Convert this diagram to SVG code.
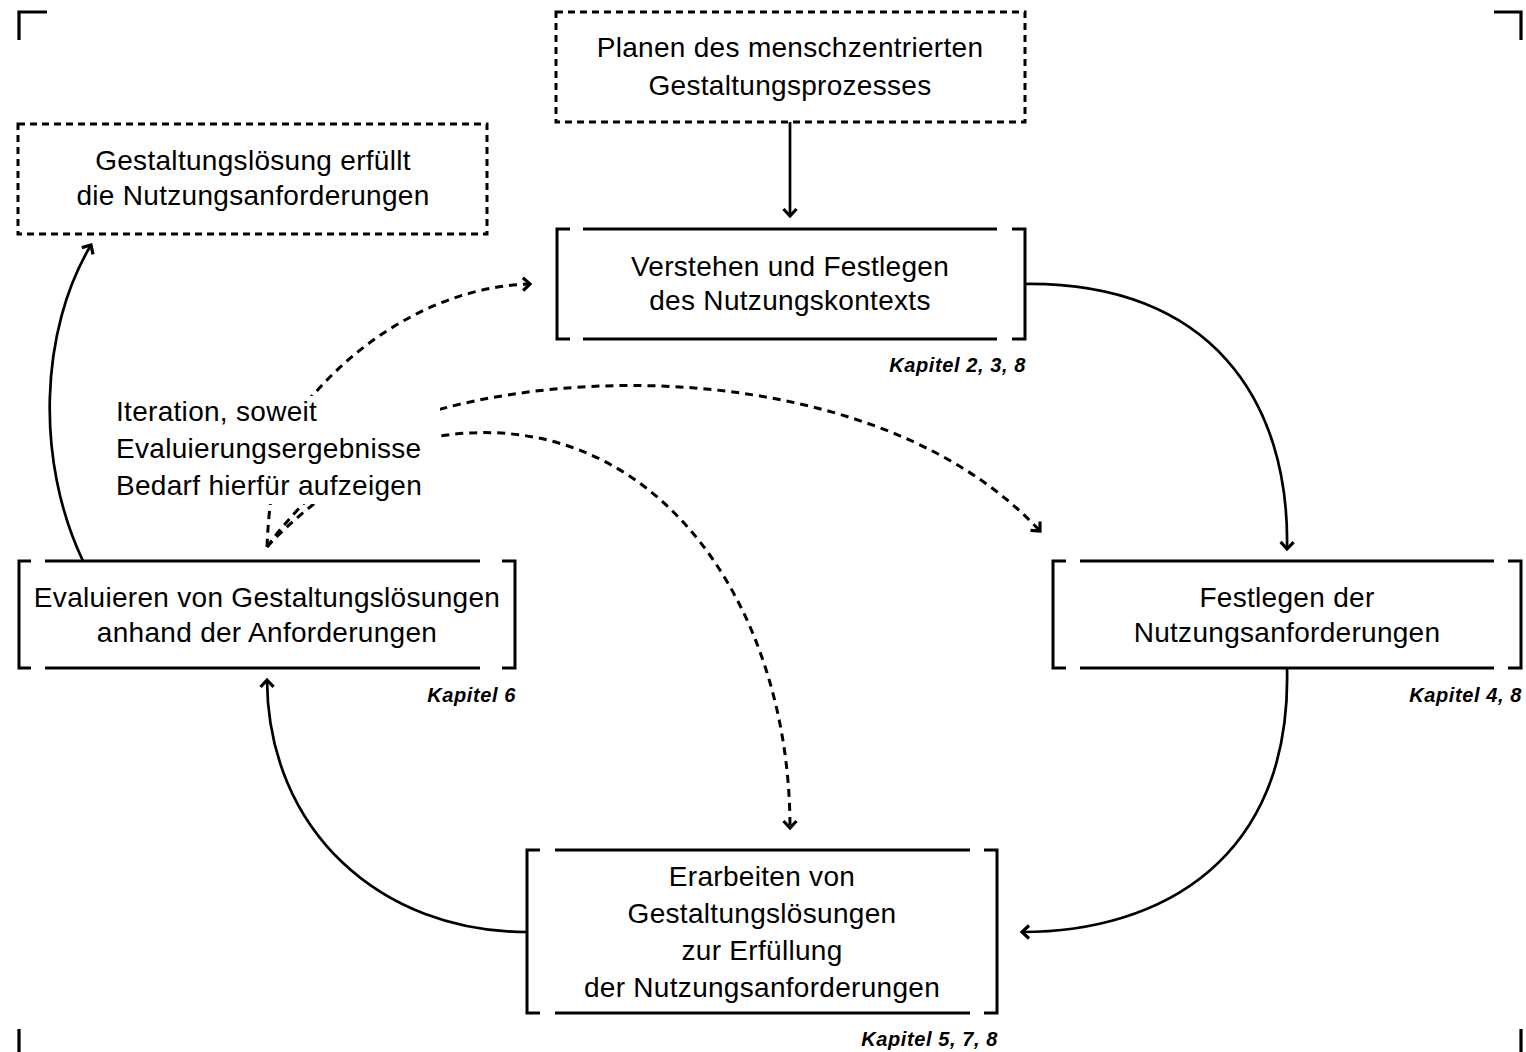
<svg xmlns="http://www.w3.org/2000/svg" width="1526" height="1052" viewBox="0 0 1526 1052">
<defs>
<style>
.t{font-family:"Liberation Sans",Arial,sans-serif;font-size:28px;letter-spacing:0.3px;fill:#000;text-anchor:middle}
.tl{text-anchor:start}
.k{font-family:"Liberation Sans",Arial,sans-serif;font-size:20px;font-weight:bold;font-style:italic;letter-spacing:0.6px;fill:#000;text-anchor:end}
.br{fill:none;stroke:#000;stroke-width:3}
.dot{fill:none;stroke:#000;stroke-width:3;stroke-dasharray:7,5}
.c{fill:none;stroke:#000;stroke-width:2.7}
.d{fill:none;stroke:#000;stroke-width:3;stroke-dasharray:8,6}
.cm{fill:none;stroke:#000;stroke-width:3.2}
</style>
<marker id="ah" viewBox="0 0 18 18" refX="14" refY="9" markerWidth="18" markerHeight="18" markerUnits="userSpaceOnUse" orient="auto">
<path d="M7,2.5 L14,9 L7,15.5" fill="none" stroke="#000" stroke-width="3.2"/>
</marker>
</defs>
<rect width="1526" height="1052" fill="#fff"/>

<g id="cropmarks">
<path class="cm" d="M19,40 V12 H47"/>
<path class="cm" d="M1494,12 H1521 V40"/>
<path class="cm" d="M19,1029 V1052"/>
<path class="cm" d="M1521,1029 V1052"/>
</g>

<g id="connectors">
<path class="c" d="M790,122 V216" marker-end="url(#ah)"/>
<path class="c" d="M1025,284 C1210,282 1290,400 1287,549" marker-end="url(#ah)"/>
<path class="c" d="M1287,668 C1292,860 1160,932 1022,932" marker-end="url(#ah)"/>
<path class="c" d="M527,932 C380,932 268,830 267,680" marker-end="url(#ah)"/>
<path class="c" d="M83,561 C35,460 40,330 91,245" marker-end="url(#ah)"/>
<path class="d" d="M267,547 C270,470 285,420 315,393 C370,330 450,286 530,284" marker-end="url(#ah)"/>
<path class="d" d="M267,547 C300,500 380,425 437,410 C620,360 900,380 1040,531" marker-end="url(#ah)"/>
<path class="d" d="M267,547 C290,520 380,445 433,437 C650,400 790,600 790,828" marker-end="url(#ah)"/>
</g>

<g id="label-iteration">
<rect x="110" y="396" width="330" height="108" fill="#fff"/>
<text class="t tl" x="116" y="421">Iteration, soweit</text>
<text class="t tl" x="116" y="458">Evaluierungsergebnisse</text>
<text class="t tl" x="116" y="495">Bedarf hierfür aufzeigen</text>
</g>

<g id="node-planen">
<rect class="dot" x="556" y="12" width="469" height="110" fill="#fff"/>
<text class="t" x="790" y="57">Planen des menschzentrierten</text>
<text class="t" x="790" y="95">Gestaltungsprozesses</text>
</g>

<g id="node-erfuellt">
<rect class="dot" x="18" y="124" width="469" height="110" fill="#fff"/>
<text class="t" x="253" y="170">Gestaltungslösung erfüllt</text>
<text class="t" x="253" y="205">die Nutzungsanforderungen</text>
</g>

<g id="node-verstehen">
<path class="br" d="M570,229 H557 V339 H570 M583,229 H997 M583,339 H997 M1012,229 H1025 V339 H1012"/>
<text class="t" x="790" y="276">Verstehen und Festlegen</text>
<text class="t" x="790" y="310">des Nutzungskontexts</text>
<text class="k" x="1026" y="372">Kapitel 2, 3, 8</text>
</g>

<g id="node-festlegen">
<path class="br" d="M1066,561 H1053 V668 H1066 M1080,561 H1494 M1080,668 H1494 M1508,561 H1521 V668 H1508"/>
<text class="t" x="1287" y="607">Festlegen der</text>
<text class="t" x="1287" y="642">Nutzungsanforderungen</text>
<text class="k" x="1522" y="702">Kapitel 4, 8</text>
</g>

<g id="node-evaluieren">
<path class="br" d="M31,561 H19 V668 H31 M45,561 H480 M45,668 H480 M502,561 H515 V668 H502"/>
<text class="t" x="267" y="607">Evaluieren von Gestaltungslösungen</text>
<text class="t" x="267" y="642">anhand der Anforderungen</text>
<text class="k" x="516" y="702">Kapitel 6</text>
</g>

<g id="node-erarbeiten">
<path class="br" d="M540,850 H527 V1013 H540 M555,850 H970 M555,1013 H970 M984,850 H997 V1013 H984"/>
<text class="t" x="762" y="886">Erarbeiten von</text>
<text class="t" x="762" y="923">Gestaltungslösungen</text>
<text class="t" x="762" y="960">zur Erfüllung</text>
<text class="t" x="762" y="997">der Nutzungsanforderungen</text>
<text class="k" x="998" y="1046">Kapitel 5, 7, 8</text>
</g>
</svg>
